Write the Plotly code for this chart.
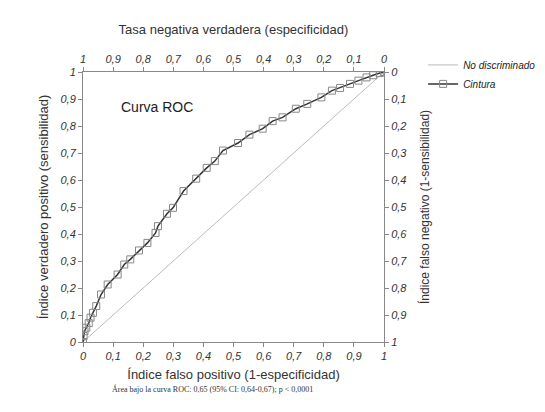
import plotly.graph_objects as go

fpr = [0,0.002,0.005,0.011,0.019,0.025,0.033,0.044,0.06,0.082,0.115,0.137,0.157,0.186,0.214,0.241,0.249,0.279,0.299,0.334,0.376,0.411,0.438,0.465,0.515,0.553,0.597,0.63,0.663,0.707,0.745,0.792,0.827,0.854,0.887,0.915,0.942,0.964,0.986,1]
tpr = [0,0.022,0.04,0.053,0.07,0.09,0.108,0.133,0.176,0.213,0.25,0.287,0.306,0.339,0.367,0.404,0.429,0.475,0.497,0.559,0.605,0.645,0.67,0.709,0.737,0.768,0.79,0.818,0.832,0.864,0.882,0.906,0.931,0.941,0.956,0.968,0.98,0.988,0.996,1]
diag = [0, 1]
ticks = [0,0.1,0.2,0.3,0.4,0.5,0.6,0.7,0.8,0.9,1]

fig = go.Figure()
fig.add_trace(go.Scatter(x=diag, y=diag, mode="lines", name="No discriminado",
                         line=dict(color="#bbbbbb", width=1)))
fig.add_trace(go.Scatter(x=fpr, y=tpr, mode="lines+markers", name="Cintura",
                         line=dict(color="#333333", width=1.5),
                         marker=dict(symbol="square-open", size=7, color="#888888", line=dict(width=1))))
fig.add_trace(go.Scatter(x=[None], y=[None], xaxis="x2", yaxis="y2", showlegend=False))

tf = dict(family="Liberation Sans", size=11, color="#333333", style="italic")
common = dict(tickvals=ticks, ticks="outside", ticklen=4, tickcolor="#888",
              showgrid=False, zeroline=False, showline=True, linecolor="#888", linewidth=1,
              tickfont=tf, tickformat="~g")
fig.update_layout(
    width=545, height=412, plot_bgcolor="white", paper_bgcolor="white",
    separators=", ",
    margin=dict(l=75, r=166, t=64, b=78),
    font=dict(family="Liberation Sans", color="#333333"),
    xaxis=dict(**common, range=[0, 1], title=dict(text="Índice falso positivo (1-especificidad)", font=dict(size=13), standoff=8)),
    yaxis=dict(**common, range=[0, 1], title=dict(text="Índice verdadero positivo (sensibilidad)", font=dict(size=13), standoff=8)),
    xaxis2=dict(**common, overlaying="x", side="top", range=[1, 0],
                title=dict(text="Tasa negativa verdadera (especificidad)", font=dict(size=13))),
    yaxis2=dict(**common, overlaying="y", side="right", range=[1, 0],
                title=dict(text="Índice falso negativo (1-sensibilidad)", font=dict(size=12), standoff=14)),
    legend=dict(x=1.13, y=1.08, xanchor="left", yanchor="top", font=dict(size=10, style="italic", color="#222"),
                tracegroupgap=10, bgcolor="rgba(0,0,0,0)"),
    annotations=[
        dict(text="Curva ROC", x=0.12, y=0.87, xref="x", yref="y", showarrow=False, xanchor="left",
             font=dict(size=14, color="#222")),
        dict(text="Área bajo la curva ROC: 0,65 (95% CI: 0,64-0,67); p < 0,0001", x=0.77, y=-0.2,
             xref="paper", yref="paper", showarrow=False, font=dict(family="Liberation Serif", size=8, color="#333")),
    ],
)
fig.write_html("out.html")
